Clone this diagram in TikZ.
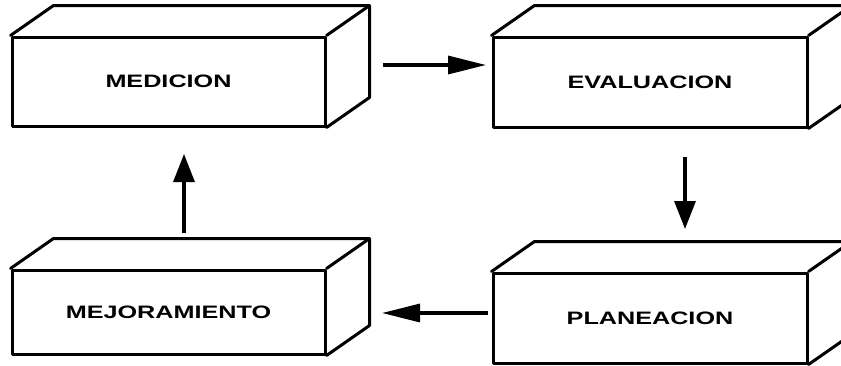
\documentclass[tikz,border=0pt]{standalone}
\usepackage{fontspec}
\setmainfont{Liberation Sans}
\usetikzlibrary{calc,arrows.meta}

% front face of a slab; the top and right faces are added by \slabfaces
\tikzset{
  slab/.style={draw, line width=3pt, line join=round, inner sep=0pt,
    font=\fontsize{18}{18}\selectfont\bfseries},
  slabline/.style={line width=3pt, line join=round, line cap=round},
  hflow/.style={line width=3.2pt, -{Triangle[length=38pt,width=18pt]}},
  vflow/.style={line width=3.2pt, -{Triangle[length=28pt,width=21pt]}}
}
\newcommand\slabfaces[1]{%
  \draw[slabline] (#1.north west) -- ++(43,-30) -| ($(#1.south east)+(43,-30)$) -- (#1.south east);
  \draw[slabline] (#1.north east) -- ++(43,-30);}
\newcommand\wide[1]{\scalebox{1.4}[1]{#1}}

\begin{document}
\begin{tikzpicture}[x=1pt,y=-1pt]
  \clip (0,0) rectangle (841,365);
  \fill[white] (0,0) rectangle (841,365);

  \node[slab, minimum width=313pt, minimum height=89pt] (med) at (168.5,81.5) {\wide{MEDICION}};
  \node[slab, minimum width=314pt, minimum height=90pt] (eva) at (650,82) {\wide{EVALUACION}};
  \node[slab, minimum width=313pt, minimum height=84pt] (mej) at (168.5,312) {\wide{MEJORAMIENTO}};
  \node[slab, minimum width=314pt, minimum height=90pt] (pla) at (650,318) {\wide{PLANEACION}};

  \slabfaces{med}
  \slabfaces{eva}
  \slabfaces{mej}
  \slabfaces{pla}

  % connector end points between the slabs
  \coordinate (a1) at (383,65);  \coordinate (a2) at (486,65);
  \coordinate (b1) at (685,157); \coordinate (b2) at (685,229);
  \coordinate (c1) at (488,313); \coordinate (c2) at (382,313);
  \coordinate (d1) at (184,233); \coordinate (d2) at (184,154);

  \draw[hflow] (a1) -- (a2);
  \draw[vflow] (b1) -- (b2);
  \draw[hflow] (c1) -- (c2);
  \draw[vflow] (d1) -- (d2);
\end{tikzpicture}
\end{document}
